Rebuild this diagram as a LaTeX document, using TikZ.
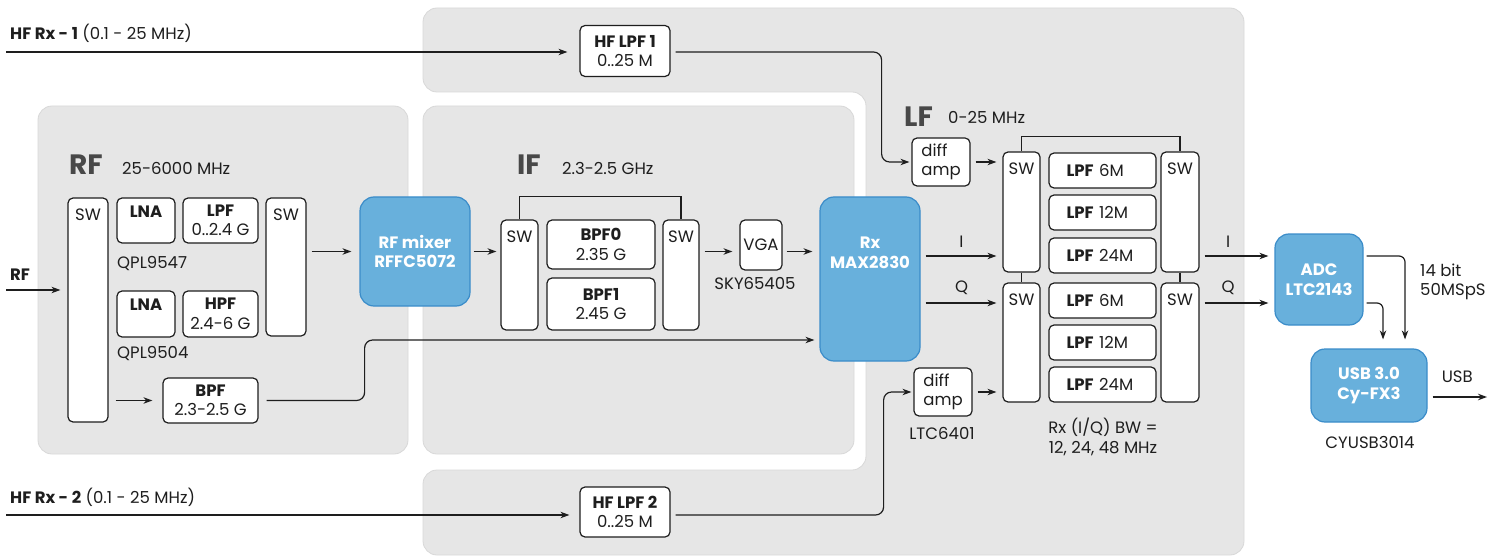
\documentclass[tikz,border=0pt]{standalone}
\usepackage{fontspec}
\setmainfont{Poppins}
\usetikzlibrary{arrows.meta}

\definecolor{panelgrey}{RGB}{230,230,230}
\definecolor{panelline}{RGB}{216,216,216}
\definecolor{chipblue}{RGB}{104,176,220}
\definecolor{chipline}{RGB}{58,140,201}
\definecolor{titlegrey}{RGB}{72,72,72}
\definecolor{ink}{RGB}{30,30,30}

\newcommand{\bodyfont}{\fontsize{16.5}{19.5}\selectfont}

\tikzset{
  panel/.style={fill=panelgrey, draw=panelline, line width=0.8pt, rounded corners=14pt},
  blk/.style={draw=ink, fill=white, line width=1.2pt, rounded corners=5pt, inner sep=0pt, align=center, font=\bodyfont, text=ink},
  swbox/.style={blk, label={[font=\bodyfont, text=ink, inner sep=0pt, anchor=north, yshift=-11.5pt]north:SW}},
  topbold/.style={blk, label={[font=\bodyfont\bfseries, text=ink, inner sep=0pt, anchor=north, yshift=-8.5pt]north:#1}},
  lpfbox/.style={blk, minimum width=107pt, minimum height=35pt, text width=72pt, align=left},
  chip/.style={draw=chipline, fill=chipblue, line width=1.2pt, rounded corners=14pt, inner sep=0pt, align=center, text=white, font=\bodyfont\bfseries},
  chiptext/.style={align=center, text=white, font=\bodyfont\bfseries, inner sep=0pt},
  title/.style={font=\fontsize{28}{30}\selectfont\bfseries, text=titlegrey, anchor=west, inner sep=0pt},
  txt/.style={font=\bodyfont, text=ink, inner sep=0pt},
  link/.style={draw=ink, line width=1.2pt},
  arr/.style={draw=ink, line width=1.2pt, -{Stealth[length=9pt, width=6.5pt]}, shorten <=5pt, shorten >=6pt},
}

\begin{document}
\begin{tikzpicture}[x=1pt, y=-1pt]
\useasboundingbox (0,0) rectangle (1501,556);

% grey panels
\path[panel] (423,8) -- (1244,8) -- (1244,555) -- (423,555) -- (423,470) -- (866,470) -- (866,92) -- (423,92) -- cycle;
\path[panel] (38,106) rectangle (408,454);
\path[panel] (423,106) rectangle (854,454);

% levels and free ends
\coordinate (hfain) at (6,52);
\coordinate (hfbin) at (6,515);
\coordinate (rfin) at (6,290);
\coordinate (usbout) at (1487,397);
\coordinate (lvi) at (0,256);
\coordinate (lvq) at (0,303);
\coordinate (lvb) at (0,340);
\coordinate (dropa) at (1405,0);
\coordinate (dropb) at (1383,0);

% inputs
\node[txt, anchor=base west] (hfa) at (10,40) {\textbf{HF Rx - 1} (0.1 - 25 MHz)};
\node[txt, anchor=base west] (hfb) at (10,503) {\textbf{HF Rx - 2} (0.1 - 25 MHz)};
\node[txt, anchor=base west] (rflab) at (10,280) {\textbf{RF}};
\node[blk, minimum width=90pt, minimum height=51pt] (hflpfa) at (625,51) {\textbf{HF LPF 1}\\0..25 M};
\node[blk, minimum width=90pt, minimum height=50pt] (hflpfb) at (625,512) {\textbf{HF LPF 2}\\0..25 M};

% RF
\node[title] (rft) at (69,165) {RF};
\node[txt, anchor=west] (rfband) at (122,168) {25-6000 MHz};
\node[swbox, minimum width=40pt, minimum height=224pt] (swa) at (88,310) {};
\node[topbold=LNA, minimum width=58pt, minimum height=45pt] (lnaa) at (146,220.5) {};
\node[blk, minimum width=75pt, minimum height=45pt] (lpfa) at (220.5,220.5) {\textbf{LPF}\\0..2.4 G};
\node[swbox, minimum width=40pt, minimum height=138pt] (swb) at (286,267) {};
\node[txt, anchor=west] (qpla) at (117,264) {QPL9547};
\node[topbold=LNA, minimum width=58pt, minimum height=46pt] (lnab) at (146,314) {};
\node[blk, minimum width=75pt, minimum height=46pt] (hpf) at (220.5,314) {\textbf{HPF}\\2.4-6 G};
\node[txt, anchor=west] (qplb) at (117,354) {QPL9504};
\node[blk, minimum width=95pt, minimum height=45pt] (bpf) at (210.5,400.5) {\textbf{BPF}\\2.3-2.5 G};
\node[chip, minimum width=110pt, minimum height=109pt] (mix) at (415,251.5) {RF mixer\\RFFC5072};

% IF
\node[title] (ift) at (517,165) {IF};
\node[txt, anchor=west] (ifband) at (562,168) {2.3-2.5 GHz};
\node[swbox, minimum width=37pt, minimum height=110pt] (swc) at (519.5,275) {};
\node[blk, minimum width=108pt, minimum height=49pt] (bpfa) at (601,244.5) {\textbf{BPF0}\\2.35 G};
\node[blk, minimum width=108pt, minimum height=52pt] (bpfb) at (601,304) {\textbf{BPF1}\\2.45 G};
\node[swbox, minimum width=36pt, minimum height=110pt] (swd) at (681,275) {};
\node[blk, minimum width=42pt, minimum height=50pt] (vga) at (761,245) {VGA};
\node[txt] (sky) at (755,283) {SKY65405};
\node[chip, minimum width=100pt, minimum height=164pt,
      label={[chiptext, anchor=center, yshift=26pt]center:{Rx\\MAX2830}}] (rx) at (870,279) {};

% LF
\node[title] (lft) at (904,117) {LF};
\node[txt, anchor=west] (lfband) at (948,117) {0-25 MHz};
\node[blk, align=left, minimum width=58pt, minimum height=48pt] (diffa) at (941,162) {diff\\amp};
\node[blk, align=left, minimum width=58pt, minimum height=48pt] (diffb) at (943,392) {diff\\amp};
\node[txt] (ltc) at (942,433) {LTC6401};
\node[swbox, minimum width=37pt, minimum height=120pt] (swe) at (1021.5,212) {};
\node[lpfbox] (lpfia) at (1102.5,170.5) {\textbf{LPF} 6M};
\node[lpfbox] (lpfib) at (1102.5,212.5) {\textbf{LPF} 12M};
\node[lpfbox] (lpfic) at (1102.5,255.5) {\textbf{LPF} 24M};
\node[swbox, minimum width=38pt, minimum height=120pt] (swg) at (1180,212) {};
\node[swbox, minimum width=37pt, minimum height=119pt] (swf) at (1021.5,342.5) {};
\node[lpfbox] (lpfqa) at (1102.5,300.5) {\textbf{LPF} 6M};
\node[lpfbox] (lpfqb) at (1102.5,342.5) {\textbf{LPF} 12M};
\node[lpfbox] (lpfqc) at (1102.5,384.5) {\textbf{LPF} 24M};
\node[swbox, minimum width=38pt, minimum height=119pt] (swh) at (1180,342.5) {};
\node[txt, align=center] (bw) at (1103,437) {Rx (I/Q) BW =\\12, 24, 48 MHz};

% output
\node[chip, minimum width=88pt, minimum height=91pt] (adc) at (1319,279.5) {ADC\\LTC2143};
\node[chip, minimum width=116pt, minimum height=73pt] (usb) at (1369,385.5) {USB 3.0\\Cy-FX3};
\node[txt, anchor=west, align=left] (rate) at (1420,282) {14 bit\\50MSpS};
\node[txt] (cyusb) at (1370,442) {CYUSB3014};

% connectors
\draw[arr, shorten <=0pt, shorten >=12pt] (hfain) -- (hflpfa.west |- hfain);
\draw[arr, rounded corners=8pt, shorten >=2pt] (hflpfa.east |- hfain) -- ++(211,0) |- (diffa.west);
\draw[arr, shorten <=0pt, shorten >=10pt] (hfbin) -- (hflpfb.west |- hfbin);
\draw[arr, rounded corners=8pt, shorten >=2pt] (hflpfb.east |- hfbin) -- ++(213,0) |- (diffb.west);
\draw[arr, shorten <=0pt, shorten >=7pt] (rfin) -- (swa.west |- rfin);
\draw[arr, shorten <=7pt, shorten >=10pt] (swa.east |- bpf.west) -- (bpf.west);
\draw[arr, shorten >=8pt] (swb.east |- mix.west) -- (mix.west);
\draw[arr, shorten <=3pt, shorten >=4pt] (mix.east) -- (mix.east -| swc.west);
\draw[arr, shorten >=7pt] (swd.east |- mix.east) -- (vga.west |- mix.east);
\draw[arr, shorten <=4pt, shorten >=7pt] (vga.east |- mix.east) -- (rx.west |- mix.east);
\draw[arr, rounded corners=8pt, shorten <=8pt, shorten >=5pt] (bpf.east) -- ++(106,0) |- (rx.west |- lvb);
\draw[link] (swc.north) -- ++(0,-23) -| (swd.north);
\draw[link] (swe.north) -- ++(0,-15) -| (swg.north);
\draw[link] (swe.south) -- (swf.north);
\draw[link] (swg.south) -- (swh.north);
\draw[arr] (diffa.east) -- (diffa.east -| swe.west);
\draw[arr] (diffb.east) -- (diffb.east -| swf.west);
\draw[arr] (rx.east |- lvi) -- node[txt, above=8pt] {I} (swe.west |- lvi);
\draw[arr] (rx.east |- lvq) -- node[txt, above=8pt] {Q} (swf.west |- lvq);
\draw[arr] (swg.east |- lvi) -- node[txt, above=8pt, pos=0.38] {I} (adc.west |- lvi);
\draw[arr] (swh.east |- lvq) -- node[txt, above=8pt, pos=0.38] {Q} (adc.west |- lvq);
\draw[arr, rounded corners=6pt, shorten <=3pt, shorten >=9pt] (adc.east |- lvi) -| (dropa |- usb.north);
\draw[arr, rounded corners=6pt, shorten <=3pt, shorten >=9pt] (adc.east |- lvq) -| (dropb |- usb.north);
\draw[arr, shorten >=0pt] (usb.east |- usbout) -- node[txt, above=14pt] {USB} (usbout);
\end{tikzpicture}
\end{document}
